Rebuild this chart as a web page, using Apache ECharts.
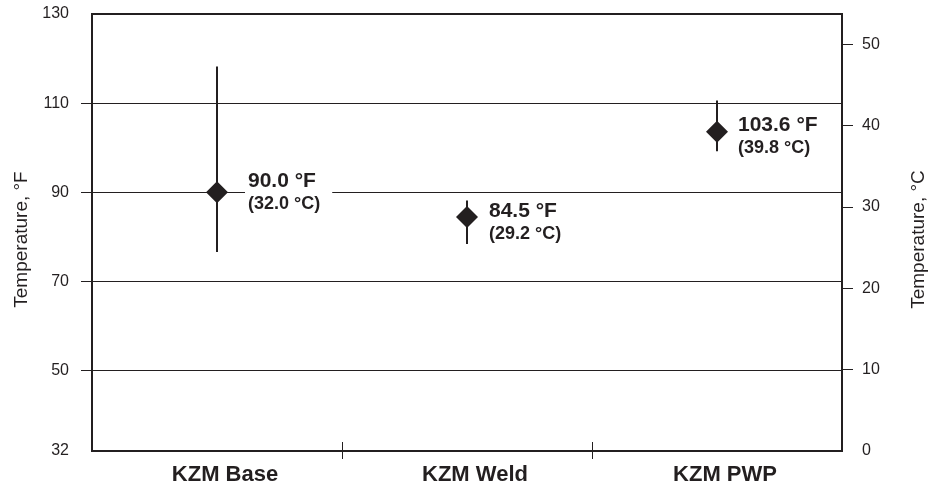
<!DOCTYPE html>
<html>
<head>
<meta charset="utf-8">
<script src="https://cdn.jsdelivr.net/npm/echarts@6/dist/echarts.min.js"></script>
<style>
  html, body { margin: 0; padding: 0; background: #fff; }
  #chart { width: 938px; height: 482px; }
</style>
</head>
<body>
<div id="chart"></div>
<script>
// data
const categories = ['KZM Base', 'KZM Weld', 'KZM PWP'];
const meanF = [90.0, 84.5, 103.6];
const meanC = [32.0, 29.2, 39.8];
const lowF = [76.6, 78.4, 99.2];
const highF = [118.2, 88.2, 110.6];

// axis ticks / labels
const fMin = 32;
const fMax = 130;
const cMin = 0;
const cMax = 53.7; // the °C scale in the original is drawn slightly stretched
const fLabelValues = [32, 50, 70, 90, 110, 130];
const fTickValues = [50, 70, 90, 110];
const gridValues = [50, 70, 90, 110];
const cLabelValues = [0, 10, 20, 30, 40, 50];
const cTickValues = [10, 20, 30, 40, 50];
const categoryBounds = [1, 2];

const ink = '#231f20';
const font = "'Liberation Sans', Arial, Helvetica, sans-serif";

// per-point label nudge (x, y in px)
const labelNudge = [[17, 0], [8, 6], [7, 5]];

const chart = echarts.init(document.getElementById('chart'), null, { renderer: 'canvas' });

// hidden value axis, only used for the category boundary ticks
function boundaryAxis(inside, length) {
  return {
    type: 'value',
    min: 0,
    max: categories.length,
    position: 'bottom',
    axisLine: { show: false, onZero: false },
    axisLabel: { show: false },
    splitLine: { show: false },
    axisTick: {
      show: true,
      inside,
      length,
      customValues: categoryBounds,
      lineStyle: { color: ink, width: 1 },
    },
  };
}

function nameStyle() {
  // padding pushes the rotated title a bit below the middle, like the original
  return { fontSize: 19, fontFamily: font, color: ink, padding: [0, 14, 0, 0] };
}

const option = {
  animation: false,
  textStyle: { fontFamily: font, color: ink },
  grid: {
    left: 92,
    right: 96,
    top: 14,
    bottom: 31,
    outerBoundsMode: 'none',
    containLabel: false,
    show: true,
    borderWidth: 2,
    borderColor: ink,
    backgroundColor: 'transparent',
  },
  xAxis: [
    {
      type: 'category',
      data: categories,
      boundaryGap: true,
      axisLine: { show: false, onZero: false },
      axisTick: { show: false },
      splitLine: { show: false },
      axisLabel: {
        margin: 13,
        fontSize: 22,
        fontWeight: 'bold',
        fontFamily: font,
        color: ink,
        padding: [0, 0, 0, 16],
      },
    },
    boundaryAxis(true, 9),
    boundaryAxis(false, 8),
  ],
  yAxis: [
    {
      type: 'value',
      min: fMin,
      max: fMax,
      position: 'left',
      name: 'Temperature, °F',
      nameLocation: 'middle',
      nameGap: 61,
      nameRotate: 90,
      nameTextStyle: nameStyle(),
      axisLine: { show: false, onZero: false },
      splitLine: { show: false },
      axisTick: {
        show: true,
        length: 11,
        customValues: fTickValues,
        lineStyle: { color: ink, width: 1 },
      },
      axisLabel: {
        margin: 23,
        fontSize: 16,
        fontFamily: font,
        color: ink,
        customValues: fLabelValues,
      },
    },
    {
      type: 'value',
      min: cMin,
      max: cMax,
      position: 'right',
      name: 'Temperature, °C',
      nameLocation: 'middle',
      nameGap: 67,
      nameRotate: 90,
      nameTextStyle: nameStyle(),
      axisLine: { show: false, onZero: false },
      splitLine: { show: false },
      axisTick: {
        show: true,
        length: 11,
        customValues: cTickValues,
        lineStyle: { color: ink, width: 1 },
      },
      axisLabel: {
        margin: 20,
        fontSize: 16,
        fontFamily: font,
        color: ink,
        customValues: cLabelValues,
      },
    },
  ],
  series: [
    {
      // horizontal grid lines
      type: 'line',
      xAxisIndex: 0,
      yAxisIndex: 0,
      data: [],
      silent: true,
      z: 1,
      markLine: {
        z: 1,
        silent: true,
        symbol: ['none', 'none'],
        label: { show: false },
        emphasis: { disabled: true },
        lineStyle: { color: ink, width: 1, type: 'solid', opacity: 1 },
        data: gridValues.map((v) => ({ yAxis: v })),
      },
    },
    {
      // range bars
      type: 'custom',
      xAxisIndex: 0,
      yAxisIndex: 0,
      z: 3,
      silent: true,
      data: categories.map((c, i) => [i, lowF[i], highF[i]]),
      encode: { x: 0, y: [1, 2] },
      renderItem(params, api) {
        const a = api.coord([api.value(0), api.value(1)]);
        const b = api.coord([api.value(0), api.value(2)]);
        return {
          type: 'line',
          shape: { x1: a[0], y1: a[1], x2: b[0], y2: b[1] },
          style: { stroke: ink, lineWidth: 2 },
        };
      },
    },
    {
      type: 'scatter',
      xAxisIndex: 0,
      yAxisIndex: 0,
      z: 10,
      symbol: 'diamond',
      symbolSize: [22, 22],
      itemStyle: { color: ink, opacity: 1 },
      data: meanF.map((v, i) => ({
        value: [i, v],
        label: { offset: labelNudge[i] },
      })),
      label: {
        show: true,
        position: 'right',
        distance: 0,
        opacity: 1,
        backgroundColor: '#fff',
        padding: [2, 12, 2, 3],
        formatter: (p) =>
          '{a|' + meanF[p.dataIndex].toFixed(1) + ' °F}\n{b|(' + meanC[p.dataIndex].toFixed(1) + ' °C)}',
        rich: {
          a: { fontSize: 21, fontWeight: 'bold', lineHeight: 23, fontFamily: font, color: ink },
          b: { fontSize: 18, fontWeight: 'bold', lineHeight: 23, fontFamily: font, color: ink },
        },
      },
      emphasis: { disabled: true },
    },
  ],
};

chart.setOption(option);
</script>
</body>
</html>
